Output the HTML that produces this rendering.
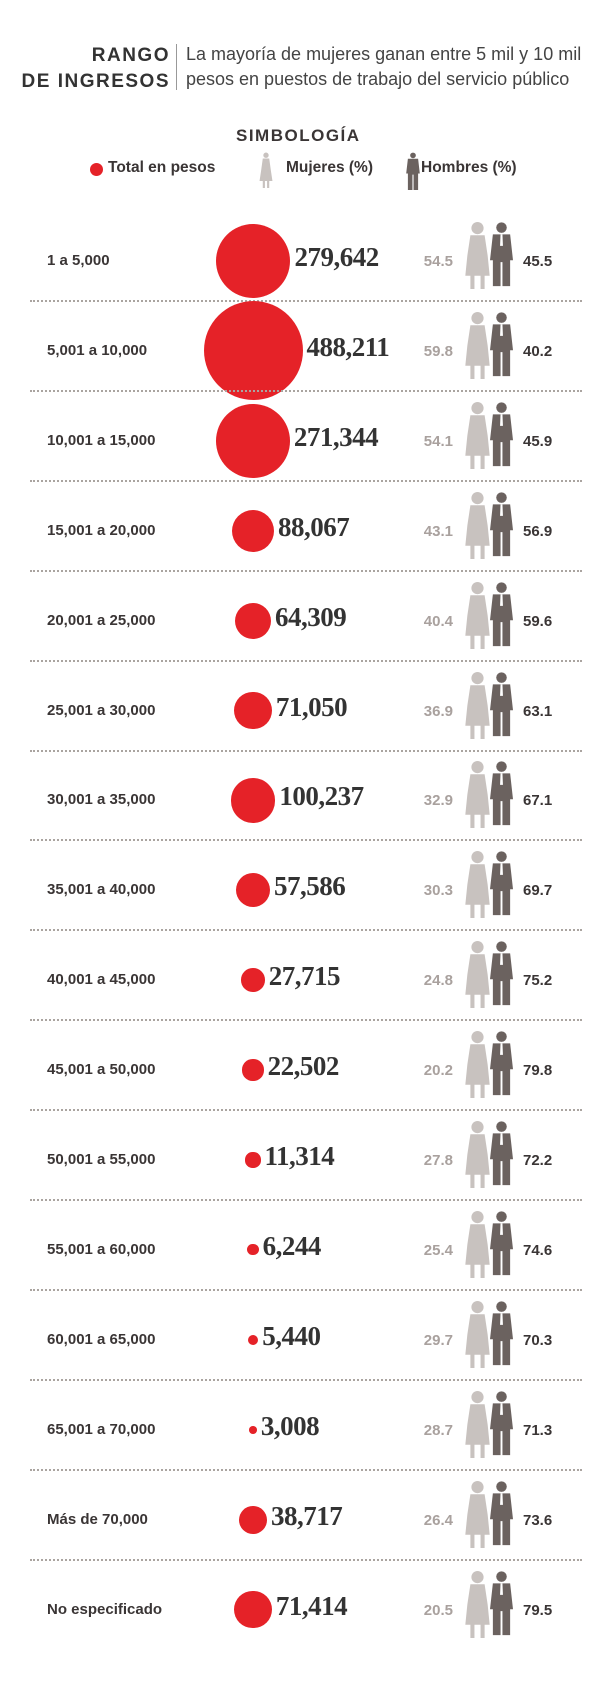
<!DOCTYPE html>
<html><head><meta charset="utf-8"><style>
body{margin:0;background:#fff;width:611px;height:1694px;position:relative;overflow:hidden;font-family:"Liberation Sans",sans-serif;color:#3a3535}
.a{position:absolute;white-space:nowrap}
.lbl{font-weight:bold;font-size:15px;left:47px}
.num{font-family:"Liberation Serif",serif;font-weight:bold;font-size:27px;letter-spacing:-0.5px;color:#333}
.w{color:#a9a19e;font-size:15px;font-weight:bold;width:60px;text-align:right;left:393px}
.m{font-size:15px;font-weight:bold;left:523px}
.dot{position:absolute;border-radius:50%;background:#e52228}
.line{position:absolute;left:30px;width:552px;border-top:2px dotted #aaa4a0;height:0}
</style></head><body>
<div class="a" style="right:441px;top:43px;font-weight:bold;font-size:19px;letter-spacing:1.5px;text-align:right;line-height:26px;color:#333">RANGO<br>DE INGRESOS</div>
<div class="a" style="left:176px;top:44px;width:1px;height:46px;background:#999"></div>
<div class="a" style="left:186px;top:42px;font-size:18px;line-height:25px;color:#444">La mayoría de mujeres ganan entre 5 mil y 10 mil<br>pesos en puestos de trabajo del servicio público</div>
<div class="a" style="left:236px;top:126px;font-weight:bold;font-size:17px;letter-spacing:1.5px">SIMBOLOGÍA</div>
<div class="dot" style="left:90px;top:163px;width:13px;height:13px"></div>
<div class="a" style="left:108px;top:159px;font-weight:bold;font-size:15.5px">Total en pesos</div>
<svg class="a" style="left:258px;top:152px" width="16" height="36" viewBox="0 0 24 67"><g fill="#c8c2bf"><circle cx="12" cy="6" r="5"/><path d="M6 12h12l3 22 3 20H0l3-20z"/><rect x="6" y="52" width="4" height="15"/><rect x="14" y="52" width="4" height="15"/></g></svg>
<div class="a" style="left:286px;top:159px;font-weight:bold;font-size:15.5px">Mujeres (%)</div>
<svg class="a" style="left:406px;top:152px" width="14" height="38" viewBox="0 0 24 67"><g fill="#6b625f"><circle cx="12" cy="6" r="5"/><path d="M3 12h18l3 26h-3v29h-8V40h-2v27H3V38H0z"/></g></svg>
<div class="a" style="left:421px;top:159px;font-weight:bold;font-size:15.5px">Hombres (%)</div>
<div id="rows"></div>
<script>
var d=[["1 a 5,000",279642,"54.5","45.5"],["5,001 a 10,000",488211,"59.8","40.2"],["10,001 a 15,000",271344,"54.1","45.9"],["15,001 a 20,000",88067,"43.1","56.9"],["20,001 a 25,000",64309,"40.4","59.6"],["25,001 a 30,000",71050,"36.9","63.1"],["30,001 a 35,000",100237,"32.9","67.1"],["35,001 a 40,000",57586,"30.3","69.7"],["40,001 a 45,000",27715,"24.8","75.2"],["45,001 a 50,000",22502,"20.2","79.8"],["50,001 a 55,000",11314,"27.8","72.2"],["55,001 a 60,000",6244,"25.4","74.6"],["60,001 a 65,000",5440,"29.7","70.3"],["65,001 a 70,000",3008,"28.7","71.3"],["Más de 70,000",38717,"26.4","73.6"],["No especificado",71414,"20.5","79.5"]];
var h="";
var woman='<g fill="#c8c2bf"><circle cx="12" cy="7" r="6"/><path d="M5 14h14l3 20 2 20H0l2-20z"/><rect x="5" y="52" width="4" height="15"/><rect x="15" y="52" width="4" height="15"/></g>';
var man='<g fill="#6b625f"><circle cx="12" cy="6" r="5.5"/><path d="M3 13h18l3 27h-3v27h-8V42h-2v25H3V40H0z"/></g><path d="M11 13h2l0.5 12h-3z" fill="#fff"/>';
d.forEach(function(r,i){
 var cy=261+i*89.9, dia=99*Math.sqrt(r[1]/488211), cx=253;
 h+='<div class="a lbl" style="top:'+(cy-9)+'px">'+r[0]+'</div>';
 h+='<div class="dot" style="left:'+(cx-dia/2)+'px;top:'+(cy-dia/2)+'px;width:'+dia+'px;height:'+dia+'px"></div>';
 h+='<div class="a num" style="left:'+(cx+dia/2+4)+'px;top:'+(cy-19)+'px">'+r[1].toLocaleString("en-US")+'</div>';
 h+='<div class="a w" style="top:'+(cy-8)+'px">'+r[2]+'</div>';
 h+='<svg class="a" style="left:465px;top:'+(cy-40)+'px" width="25" height="68" viewBox="0 0 24 67">'+woman+'</svg>';
 h+='<svg class="a" style="left:490px;top:'+(cy-41)+'px" width="23" height="68" viewBox="0 0 24 67">'+man+'</svg>';
 h+='<div class="a m" style="top:'+(cy-8)+'px">'+r[3]+'</div>';
 if(i<15) h+='<div class="line" style="top:'+(300+i*89.9)+'px"></div>';
});
document.getElementById("rows").innerHTML=h;
</script>
</body></html>
